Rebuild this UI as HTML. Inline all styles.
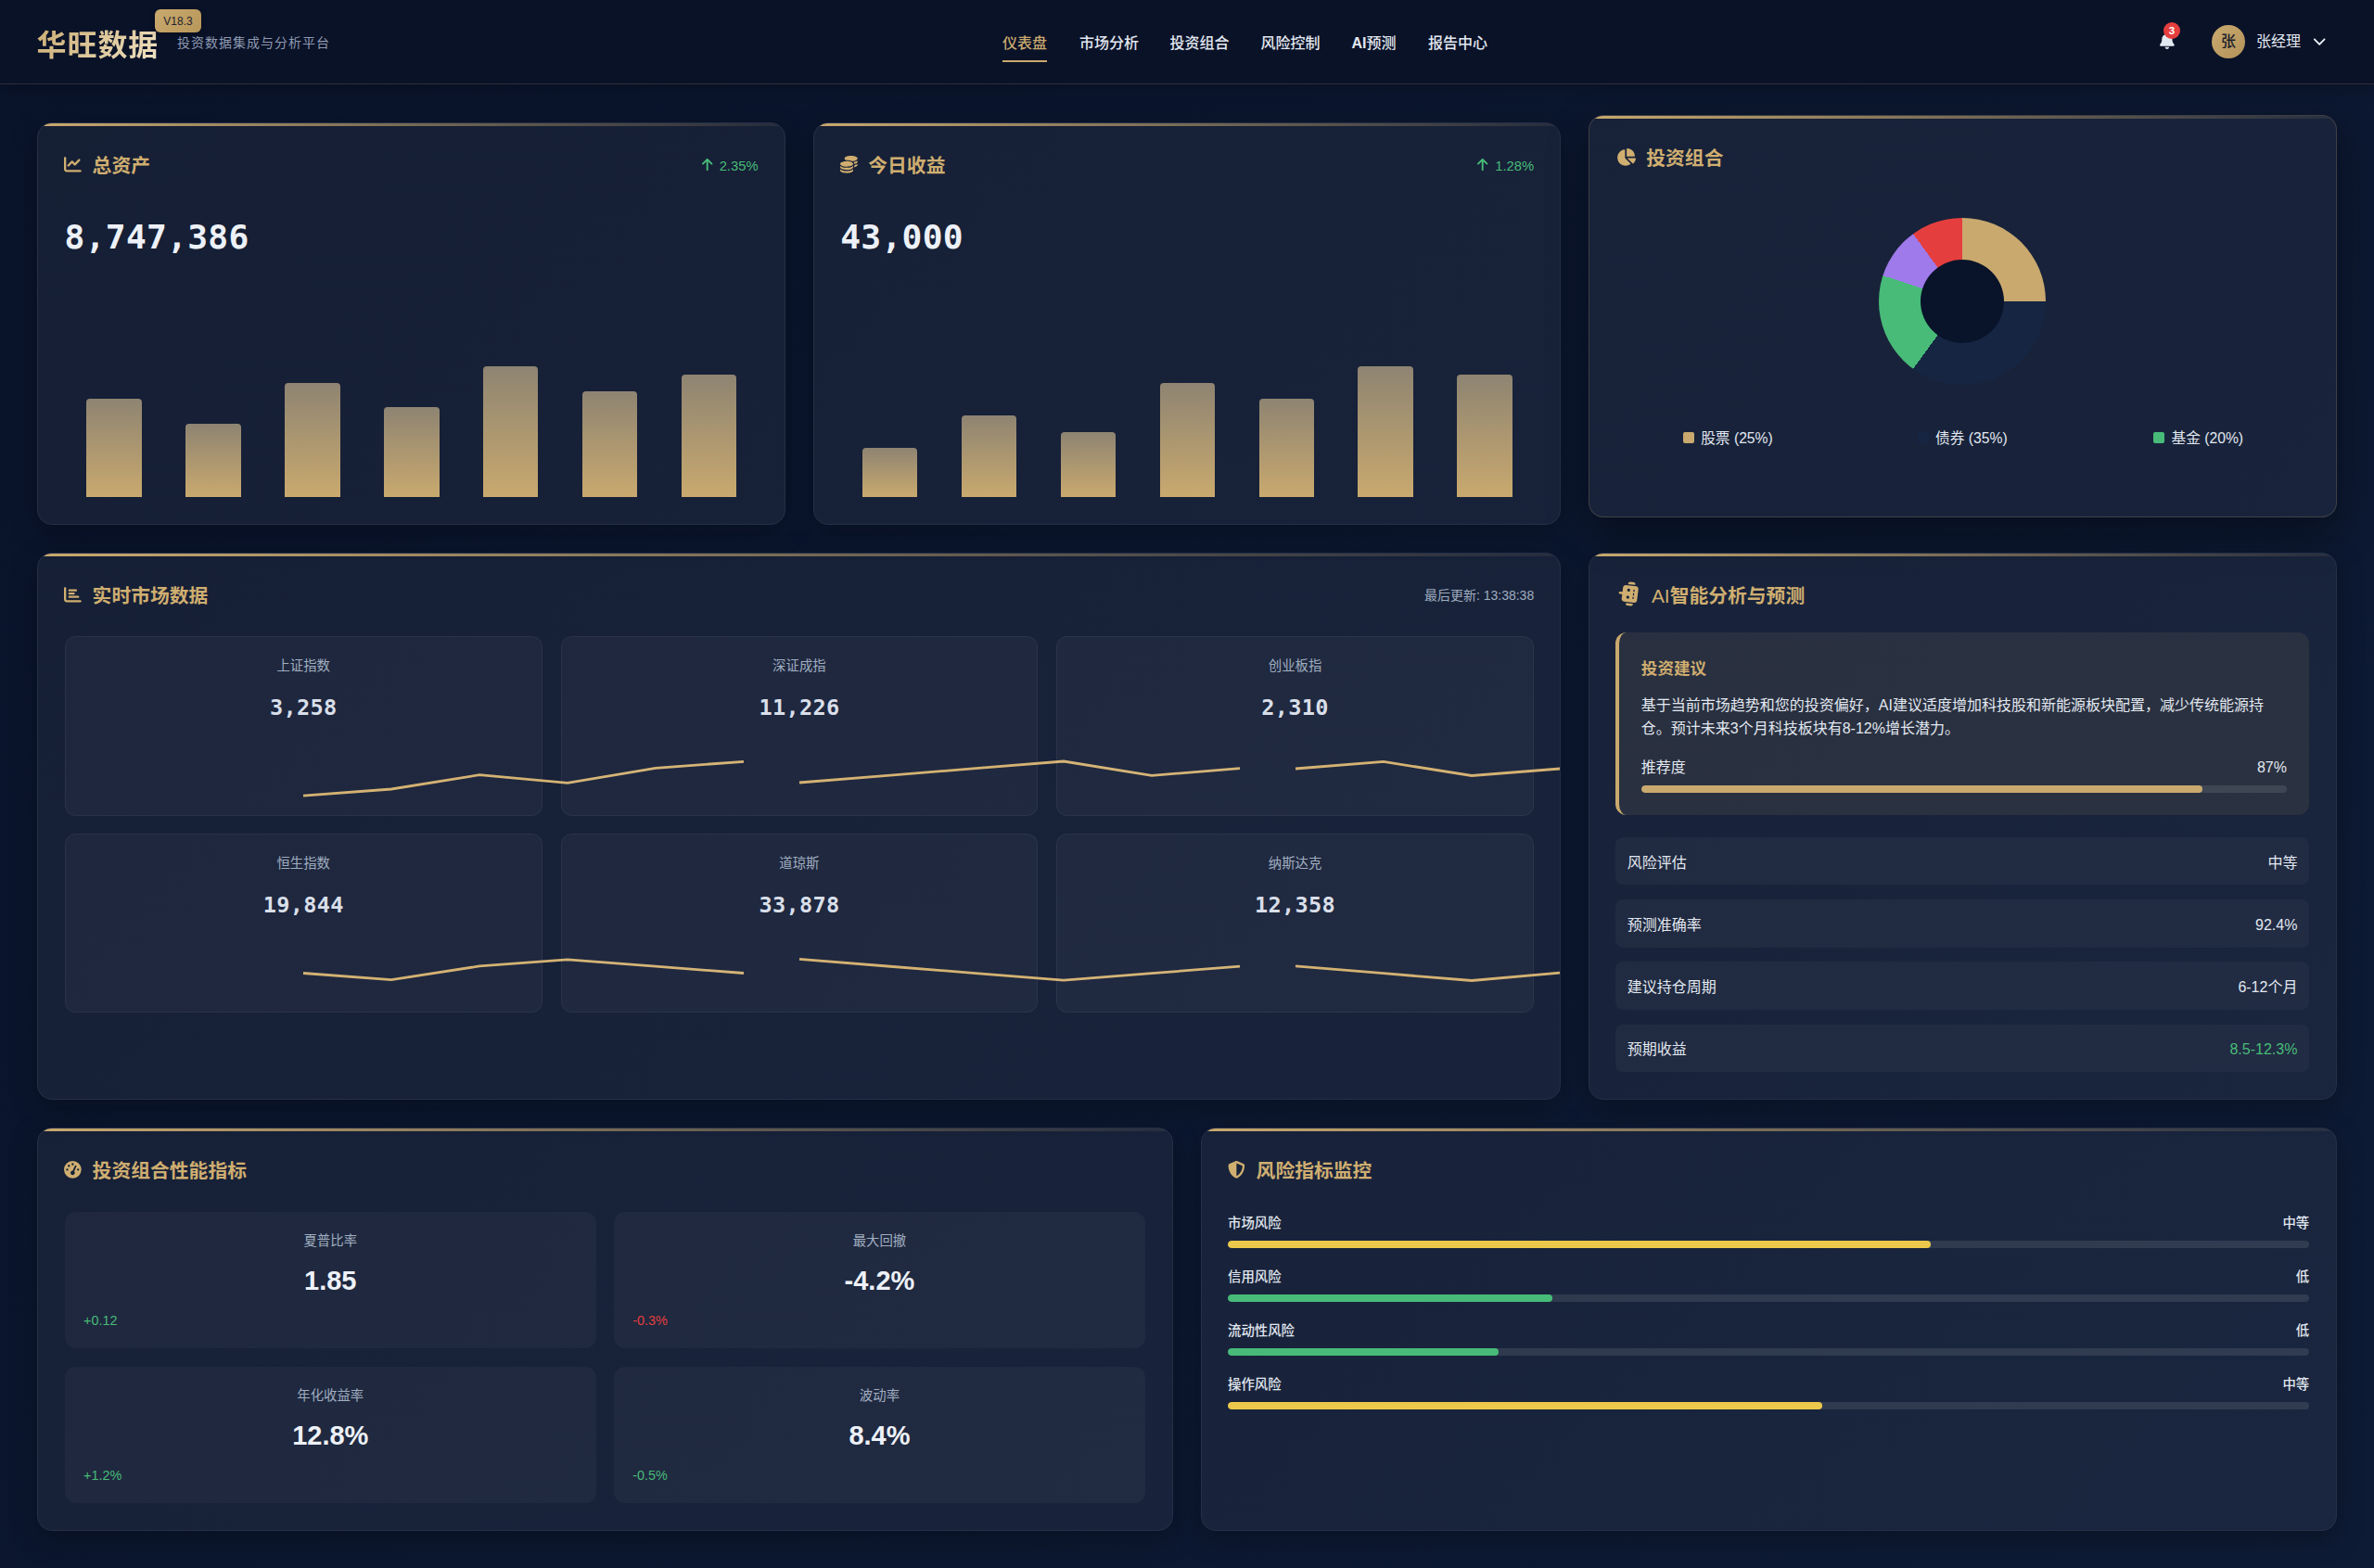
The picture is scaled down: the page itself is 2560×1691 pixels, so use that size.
<!DOCTYPE html>
<html lang="zh-CN">
<head>
<meta charset="utf-8">
<title>华旺数据 - 投资数据集成与分析平台</title>
<style>
*{margin:0;padding:0;box-sizing:border-box}
html,body{width:2560px;height:1691px;overflow:hidden}
body{position:relative;background:linear-gradient(135deg,#09132a 0%,#0e1b35 100%);color:#e2e8f0;
  font-family:"Liberation Sans","Noto Sans CJK SC",sans-serif;font-size:16px}
.hdr{position:absolute;left:0;top:0;width:2560px;height:91px;background:#0a1228;border-bottom:1px solid rgba(201,169,110,.2);box-shadow:0 2px 16px rgba(0,0,0,.3);z-index:5}
.hdr>*,.hdr nav a{position:absolute;white-space:nowrap}
.logo{left:39.5px;top:19.2px;height:60px;line-height:60px;font-size:32px;font-weight:700;letter-spacing:.95px;
  background:linear-gradient(135deg,#c9a96e 0%,#f2e6c8 100%);-webkit-background-clip:text;background-clip:text;color:transparent}
.ver{left:167px;top:10px;width:50px;height:25px;line-height:26.4px;border-radius:6px;text-align:center;font-size:12px;font-weight:500;
  color:#1f2430;background:linear-gradient(135deg,#c9a96e,#b8975a);box-shadow:0 2px 6px rgba(0,0,0,.3)}
.sub{left:191px;top:31px;height:30px;line-height:30px;font-size:14px;letter-spacing:1px;color:#8f9bb3}
.hdr nav{left:0;top:0;width:100%;height:90px}
.hdr nav a{top:26.8px;height:40px;line-height:40px;font-size:16px;font-weight:500;color:#e2e8f0}
.hdr nav a.on{color:#c9a96e}
.hdr nav a.on::after{content:"";position:absolute;left:0;right:0;top:38px;height:2.2px;background:#c9a96e}
.ico{position:absolute;display:block;overflow:visible}
.badge{left:2333px;top:24px;width:18px;height:18px;border-radius:50%;background:#e53e3e;color:#fff;font-size:11.5px;font-weight:700;line-height:18px;text-align:center}
.avatar{left:2385px;top:27px;width:36px;height:36px;border-radius:50%;background:linear-gradient(135deg,#c9a96e,#b3935a);color:#1a202c;
  font-size:16px;font-weight:500;line-height:36px;text-align:center}
.uname{left:2433px;top:25px;height:40px;line-height:40px;font-size:16px;color:#e2e8f0}
.card{position:absolute;border:1px solid #253048;border-radius:16px;overflow:hidden;
  background:rgba(255,255,255,.05);box-shadow:0 8px 30px rgba(0,0,0,.28)}
.card.lift{box-shadow:0 16px 44px rgba(0,0,0,.4);border-color:rgba(201,169,110,.22)}
.card::before{content:"";position:absolute;left:-1px;right:-1px;top:-1px;height:4.5px;background:linear-gradient(90deg,#c9a96e 0%,rgba(201,169,110,.08) 100%)}
.card>*{position:absolute}
.t{position:absolute;white-space:nowrap}
.ttl{font-size:20.8px;font-weight:700;color:#cfae70}
.chg{font-size:14.8px;color:#48bb78}
.big{font-family:"DejaVu Sans Mono","Liberation Mono",monospace;font-weight:700;font-size:36.3px;color:#edf1f7;letter-spacing:.25px}
.bars{display:flex;align-items:flex-end;justify-content:space-around}
.bars i{display:block;width:59.6px;border-radius:4px 4px 0 0;background:linear-gradient(to top,#c9a96e 0%,#8e8472 100%)}
.donut{border-radius:50%;background:conic-gradient(#c9a96e 0 25%,#152542 25% 60%,#48bb78 60% 80%,#9f7aea 80% 90%,#e53e3e 90% 100%)}
.donut b{position:absolute;left:45px;top:45px;width:90px;height:90px;border-radius:50%;background:#09132a}
.sq{border-radius:2px}
.leg{font-size:15.7px;color:#e2e8f0}
.upd{font-size:14px;color:#a0aec0}
.mitem,.pitem{border-radius:12px;background:rgba(255,255,255,.035)}
.mitem{border:1px solid rgba(255,255,255,.05)}
.mlab{font-size:14.4px;color:#a0aec0}
.mval{font-family:"DejaVu Sans Mono","Liberation Mono",monospace;font-weight:700;font-size:23.6px;color:#d9dfe9;letter-spacing:.3px}
.spark{position:absolute;overflow:visible}
.spark polyline{fill:none;stroke:#d4b273;stroke-width:2.8;stroke-linejoin:miter}
.advice{border-left:4px solid #c9a96e;border-radius:12px;background:rgba(201,169,110,.1)}
.advh{font-size:17.6px;font-weight:700;color:#cfae70}
.advp{position:absolute;left:24px;top:67.1px;width:700px;font-size:16px;line-height:24.7px;color:#e2e8f0;white-space:nowrap}
.rec{font-size:16px;color:#e2e8f0}
.prog{position:absolute;height:8px;border-radius:4px;background:rgba(255,255,255,.1);overflow:hidden}
.prog i{display:block;height:100%;border-radius:4px;background:#c9a96e}
.airow{border-radius:8px;background:rgba(255,255,255,.035);display:flex;align-items:center;justify-content:space-between;padding:0 12.4px 0 13px;font-size:16px;color:#e2e8f0}
.airow .pos,.pos{color:#48bb78}
.neg{color:#e53e3e}
.pval{font-size:29px;font-weight:700;color:#edf1f7}
.pchg{font-size:14.4px}
.rlab{font-size:14.4px;font-weight:500;color:#e2e8f0}
.ttl .lat{font-weight:400}
.hdr nav a b{font-weight:700}
.airow .num{position:relative;top:1.8px}

</style>
</head>
<body>
<header class="hdr">
  <div class="logo">华旺数据</div>
  <div class="ver">V18.3</div>
  <div class="sub">投资数据集成与分析平台</div>
  <nav><a class="on" style="left:1081px">仪表盘</a><a class="" style="left:1164px">市场分析</a><a class="" style="left:1261.6px">投资组合</a><a class="" style="left:1359.5px">风险控制</a><a class="" style="left:1457.4px"><b>AI</b>预测</a><a class="" style="left:1540px">报告中心</a></nav>
  <svg class="ico" style="left:2328.5px;top:35.2px;" width="15.75" height="18" viewBox="0 0 448 512" fill="#e2e8f0"><path d="M224 0c-17.700 0-32 14.300-32 32V51.200C119 66 64 130.600 64 208v18.800c0 47-17.300 92.400-48.500 127.600l-7.400 8.300c-8.400 9.400-10.400 22.900-5.300 34.400S19.400 416 32 416H416c12.600 0 24-7.400 29.200-18.900s3.100-25-5.300-34.400l-7.400-8.300C401.300 319.200 384 273.900 384 226.800V208c0-77.400-55-142-128-156.800V32c0-17.700-14.300-32-32-32zm45.300 493.300c12-12 18.700-28.300 18.700-45.300H224 160c0 17 6.700 33.300 18.700 45.300s28.300 18.700 45.300 18.700s33.300-6.700 45.300-18.700z"/></svg>
  <div class="badge">3</div>
  <div class="avatar">张</div>
  <div class="uname">张经理</div>
  <svg class="ico" style="left:2493.8px;top:36.6px;" width="14.4" height="14.4" viewBox="0 0 512 512" fill="#edf2f7"><path d="M233.400 406.600c12.500 12.500 32.800 12.500 45.300 0l192-192c12.500-12.500 12.500-32.800 0-45.300s-32.800-12.500-45.300 0L256 338.700 86.600 169.400c-12.500-12.500-32.800-12.500-45.300 0s-12.500 32.800 0 45.300l192 192z"/></svg>
</header>
<main>
<section class="card " style="left:40px;top:131.5px;width:806.67px;height:434.2px">
  <svg class="ico" style="left:28.3px;top:35.4px;" width="18.72" height="18.72" viewBox="0 0 512 512" fill="#cfae70"><path d="M64 64c0-17.700-14.300-32-32-32S0 46.300 0 64V400c0 44.200 35.800 80 80 80H480c17.700 0 32-14.300 32-32s-14.300-32-32-32H80c-8.800 0-16-7.200-16-16V64zm406.600 86.600c12.500-12.500 12.500-32.800 0-45.300s-32.800-12.500-45.300 0L320 210.700l-57.400-57.400c-12.500-12.500-32.800-12.500-45.300 0l-112 112c-12.500 12.500-12.500 32.800 0 45.300s32.800 12.500 45.300 0L240 221.300l57.400 57.400c12.500 12.500 32.800 12.500 45.300 0l128-128z"/></svg>
  <div class="t ttl" style="left:58.62px;top:26.9px;height:40px;line-height:40px;">总资产</div>
  <div class="t chg" style="right:28.07px;top:31.2px;height:30px;line-height:30px;">2.35%</div>
  <svg class="ico" style="left:715.5px;top:37.6px;" width="11.4" height="15.2" viewBox="0 0 384 512" fill="#48bb78"><path d="M214.600 41.400c-12.500-12.500-32.800-12.500-45.300 0l-160 160c-12.500 12.500-12.500 32.800 0 45.300s32.800 12.500 45.300 0L160 141.200V448c0 17.700 14.300 32 32 32s32-14.300 32-32V141.200L329.400 246.600c12.500 12.500 32.800 12.500 45.300 0s12.500-32.800 0-45.300l-160-160z"/></svg>
  <div class="t big" style="left:28.6px;top:93.2px;height:60px;line-height:60px;">8,747,386</div>
  <div class="bars" style="left:28.45px;top:227.5px;width:748.67px;height:176px;"><i style="height:105.6px"></i><i style="height:79.2px"></i><i style="height:123.2px"></i><i style="height:96.8px"></i><i style="height:140.8px"></i><i style="height:114.4px"></i><i style="height:132px"></i></div>
</section>
<section class="card " style="left:876.67px;top:131.5px;width:806.67px;height:434.2px">
  <svg class="ico" style="left:28.3px;top:35.4px;" width="18.72" height="18.72" viewBox="0 0 512 512" fill="#cfae70"><path d="M512 80c0 18-14.300 34.600-38.400 48c-29.100 16.100-72.500 27.500-122.300 30.900c-3.700-1.800-7.400-3.500-11.300-5C300.600 137.400 248.200 128 192 128c-8.300 0-16.400 .2-24.500 .6l-1.100-.6C142.300 114.600 128 98 128 80c0-44.200 86-80 192-80S512 35.800 512 80zM160.700 161.100c10.200-.7 20.700-1.100 31.300-1.100c62.200 0 117.400 12.300 152.500 31.400C369.300 204.900 384 221.700 384 240c0 4-.7 7.900-2.100 11.700c-4.600 13.200-17 25.300-35 35.500c0 0 0 0 0 0c-.1 .1-.3 .1-.4 .2l0 0 0 0c-.3 .2-.6 .3-.9 .5c-35 19.400-90.800 32-153.600 32c-59.600 0-112.900-11.300-148.200-29.100c-1.900-.9-3.700-1.900-5.500-2.900C14.300 274.600 0 258 0 240c0-34.800 53.400-64.500 128-75.400c10.500-1.500 21.400-2.700 32.700-3.500zM416 240c0-21.900-10.600-39.900-24.100-53.400c28.300-4.400 54.200-11.400 76.200-20.500c16.300-6.800 31.500-15.200 43.900-25.500V176c0 19.300-16.500 37.100-43.800 50.900c-14.600 7.400-32.400 13.700-52.400 18.500c.1-1.800 .2-3.500 .2-5.300zm-32 96c0 18-14.300 34.600-38.400 48c-1.800 1-3.600 1.900-5.500 2.900C304.900 404.700 251.600 416 192 416c-62.800 0-118.600-12.600-153.600-32C14.300 370.600 0 354 0 336V300.600c12.500 10.300 27.600 18.700 43.900 25.500C83.400 342.600 135.800 352 192 352s108.600-9.400 148.100-25.900c7.800-3.200 15.300-6.900 22.400-10.900c6.100-3.400 11.800-7.200 17.200-11.200c1.500-1.100 2.900-2.300 4.300-3.400V304v5.700V336zm32 0V304 278.100c19-4.200 36.500-9.500 52.100-16c16.300-6.800 31.500-15.200 43.900-25.500V272c0 10.500-5 21-14.900 30.900c-16.300 16.300-45 29.700-81.300 38.400c.1-1.700 .2-3.500 .2-5.300zM192 448c56.200 0 108.600-9.400 148.100-25.900c16.300-6.800 31.500-15.200 43.900-25.500V432c0 44.200-86 80-192 80S0 476.200 0 432V396.600c12.500 10.300 27.600 18.700 43.900 25.500C83.400 438.600 135.800 448 192 448z"/></svg>
  <div class="t ttl" style="left:58.62px;top:26.9px;height:40px;line-height:40px;">今日收益</div>
  <div class="t chg" style="right:28.07px;top:31.2px;height:30px;line-height:30px;">1.28%</div>
  <svg class="ico" style="left:715.5px;top:37.6px;" width="11.4" height="15.2" viewBox="0 0 384 512" fill="#48bb78"><path d="M214.600 41.400c-12.500-12.500-32.800-12.500-45.300 0l-160 160c-12.500 12.500-12.500 32.800 0 45.300s32.800 12.500 45.300 0L160 141.200V448c0 17.700 14.300 32 32 32s32-14.300 32-32V141.200L329.400 246.600c12.500 12.500 32.800 12.500 45.300 0s12.500-32.800 0-45.300l-160-160z"/></svg>
  <div class="t big" style="left:28.6px;top:93.2px;height:60px;line-height:60px;">43,000</div>
  <div class="bars" style="left:28.45px;top:227.5px;width:748.67px;height:176px;"><i style="height:52.8px"></i><i style="height:88px"></i><i style="height:70.4px"></i><i style="height:123.2px"></i><i style="height:105.6px"></i><i style="height:140.8px"></i><i style="height:132px"></i></div>
</section>
<section class="card lift" style="left:1713.33px;top:123.5px;width:806.67px;height:434.2px">
  <svg class="ico" style="left:28.3px;top:35.4px;" width="21.06" height="18.72" viewBox="0 0 576 512" fill="#cfae70"><path d="M304 240V16.600c0-9 7-16.600 16-16.600C443.700 0 544 100.300 544 224c0 9-7.600 16-16.600 16H304zM32 272C32 150.700 122.100 50.300 239 34.300c9.200-1.300 17 6.100 17 15.400V288L412.500 444.500c6.700 6.700 6.200 17.700-1.500 23.100C371.800 495.600 323.800 512 272 512C139.500 512 32 404.600 32 272zm526.400 16c9.300 0 16.600 7.800 15.400 17c-7.700 55.900-34.600 105.600-73.900 142.300c-6 5.600-15.400 5.200-21.200-.7L320 288H558.400z"/></svg>
  <div class="t ttl" style="left:60.96px;top:26.9px;height:40px;line-height:40px;">投资组合</div>
  <div class="donut" style="left:311.67px;top:110.7px;width:180px;height:180px;"><b></b></div>
  <div class="sq" style="left:100.67px;top:341.8px;width:12px;height:12px;background:#c9a96e"></div>
  <div class="t leg" style="left:119.87px;top:333.9px;height:30px;line-height:30px;">股票 (25%)</div>
  <div class="sq" style="left:353.57px;top:341.8px;width:12px;height:12px;background:#152542"></div>
  <div class="t leg" style="left:372.77px;top:333.9px;height:30px;line-height:30px;">债券 (35%)</div>
  <div class="sq" style="left:607.97px;top:341.8px;width:12px;height:12px;background:#48bb78"></div>
  <div class="t leg" style="left:627.17px;top:333.9px;height:30px;line-height:30px;">基金 (20%)</div>
</section>
<section class="card " style="left:40px;top:595.7px;width:1643.33px;height:590px">
  <svg class="ico" style="left:28.3px;top:35.4px;" width="18.72" height="18.72" viewBox="0 0 512 512" fill="#cfae70"><path d="M32 32c17.700 0 32 14.300 32 32V400c0 8.800 7.200 16 16 16H480c17.700 0 32 14.300 32 32s-14.300 32-32 32H80c-44.200 0-80-35.800-80-80V64C0 46.300 14.300 32 32 32zm96 96c0-17.700 14.300-32 32-32l192 0c17.700 0 32 14.300 32 32s-14.300 32-32 32l-192 0c-17.700 0-32-14.300-32-32zm32 64H288c17.700 0 32 14.300 32 32s-14.300 32-32 32H160c-17.700 0-32-14.300-32-32s14.300-32 32-32zm0 96H416c17.700 0 32 14.300 32 32s-14.300 32-32 32H160c-17.700 0-32-14.300-32-32s14.300-32 32-32z"/></svg>
  <div class="t ttl" style="left:58.62px;top:26.4px;height:40px;line-height:40px;">实时市场数据</div>
  <div class="t upd" style="right:28.13px;top:30.5px;height:30px;line-height:30px;">最后更新: 13:38:38</div>
  <div class="mitem" style="left:28.9px;top:89.3px;width:514.7px;height:194px;"><div class="t mlab" style="left:0;width:100%;text-align:center;top:16.4px;height:30px;line-height:30px">上证指数</div><div class="t mval" style="left:0;width:100%;text-align:center;top:56px;height:40px;line-height:40px">3,258</div><svg class="spark" style="left:256.35px;top:131px" width="475" height="40" viewBox="0 0 475 40"><polyline points="0,40.1 95,33 190,17.7 285,26.3 380,10.3 475,3.3"/></svg></div>
  <div class="mitem" style="left:563.55px;top:89.3px;width:514.7px;height:194px;"><div class="t mlab" style="left:0;width:100%;text-align:center;top:16.4px;height:30px;line-height:30px">深证成指</div><div class="t mval" style="left:0;width:100%;text-align:center;top:56px;height:40px;line-height:40px">11,226</div><svg class="spark" style="left:256.35px;top:131px" width="475" height="40" viewBox="0 0 475 40"><polyline points="0,26 95,18.4 190,10.7 285,3 380,18.3 475,10.6"/></svg></div>
  <div class="mitem" style="left:1098.2px;top:89.3px;width:514.7px;height:194px;"><div class="t mlab" style="left:0;width:100%;text-align:center;top:16.4px;height:30px;line-height:30px">创业板指</div><div class="t mval" style="left:0;width:100%;text-align:center;top:56px;height:40px;line-height:40px">2,310</div><svg class="spark" style="left:256.35px;top:131px" width="475" height="40" viewBox="0 0 475 40"><polyline points="0,11 95,3.4 190,18.5 285,11 380,3.5 475,11"/></svg></div>
  <div class="mitem" style="left:28.9px;top:302.3px;width:514.7px;height:193px;"><div class="t mlab" style="left:0;width:100%;text-align:center;top:16.4px;height:30px;line-height:30px">恒生指数</div><div class="t mval" style="left:0;width:100%;text-align:center;top:56px;height:40px;line-height:40px">19,844</div><svg class="spark" style="left:256.35px;top:131px" width="475" height="40" viewBox="0 0 475 40"><polyline points="0,18.5 95,25.6 190,10.9 285,3.8 380,11.2 475,18.5"/></svg></div>
  <div class="mitem" style="left:563.55px;top:302.3px;width:514.7px;height:193px;"><div class="t mlab" style="left:0;width:100%;text-align:center;top:16.4px;height:30px;line-height:30px">道琼斯</div><div class="t mval" style="left:0;width:100%;text-align:center;top:56px;height:40px;line-height:40px">33,878</div><svg class="spark" style="left:256.35px;top:131px" width="475" height="40" viewBox="0 0 475 40"><polyline points="0,3.4 95,11 190,18.6 285,26.2 380,18.7 475,11.1"/></svg></div>
  <div class="mitem" style="left:1098.2px;top:302.3px;width:514.7px;height:193px;"><div class="t mlab" style="left:0;width:100%;text-align:center;top:16.4px;height:30px;line-height:30px">纳斯达克</div><div class="t mval" style="left:0;width:100%;text-align:center;top:56px;height:40px;line-height:40px">12,358</div><svg class="spark" style="left:256.35px;top:131px" width="475" height="40" viewBox="0 0 475 40"><polyline points="0,10.8 95,18.7 190,26.5 285,18.1 380,10.5 475,18.5"/></svg></div>
</section>
<section class="card " style="left:1713.33px;top:595.7px;width:806.67px;height:590px">
  <svg class="ico" style="left:29.06px;top:33.35px;transform:rotate(-83deg);" width="25.62" height="20.5" viewBox="0 0 640 512" fill="#cfae70"><path d="M320 0c17.700 0 32 14.300 32 32V96H472c39.800 0 72 32.200 72 72V440c0 39.800-32.200 72-72 72H168c-39.800 0-72-32.200-72-72V168c0-39.800 32.200-72 72-72H288V32c0-17.700 14.300-32 32-32zM208 384c-8.800 0-16 7.200-16 16s7.200 16 16 16h32c8.800 0 16-7.200 16-16s-7.200-16-16-16H208zm96 0c-8.800 0-16 7.200-16 16s7.200 16 16 16h32c8.800 0 16-7.200 16-16s-7.200-16-16-16H304zm96 0c-8.800 0-16 7.200-16 16s7.200 16 16 16h32c8.800 0 16-7.200 16-16s-7.200-16-16-16H400zM264 256a40 40 0 1 0 -80 0 40 40 0 1 0 80 0zm152 40a40 40 0 1 0 0-80 40 40 0 1 0 0 80zM48 224H64V416H48c-26.500 0-48-21.500-48-48V272c0-26.500 21.500-48 48-48zm544 0c26.500 0 48 21.500 48 48v96c0 26.500-21.500 48-48 48H576V224h16z"/></svg>
  <div class="t ttl" style="left:66.67px;top:26.4px;height:40px;line-height:40px;"><span class="lat">AI</span>智能分析与预测</div>
  <div class="advice" style="left:27.47px;top:85.2px;width:748px;height:197px;"><div class="t advh" style="left:24px;top:18.9px;height:40px;line-height:40px">投资建议</div><p class="advp">基于当前市场趋势和您的投资偏好，AI建议适度增加科技股和新能源板块配置，减少传统能源持<br>仓。预计未来3个月科技板块有8-12%增长潜力。</p><div class="t rec" style="left:24px;top:131px;height:30px;line-height:30px">推荐度</div><div class="t rec" style="right:23.8px;top:131.5px;height:30px;line-height:30px">87%</div><div class="prog" style="left:24px;top:165.3px;width:696px"><i style="width:87%"></i></div></div>
  <div class="airow" style="left:27.47px;top:306.3px;width:748px;height:51.4px;"><span class="k">风险评估</span><span class="v">中等</span></div>
  <div class="airow" style="left:27.47px;top:373.5px;width:748px;height:51.4px;"><span class="k">预测准确率</span><span class="v num">92.4%</span></div>
  <div class="airow" style="left:27.47px;top:440.7px;width:748px;height:51.4px;"><span class="k">建议持仓周期</span><span class="v">6-12个月</span></div>
  <div class="airow" style="left:27.47px;top:507.9px;width:748px;height:51.4px;"><span class="k">预期收益</span><span class="v num pos">8.5-12.3%</span></div>
</section>
<section class="card " style="left:40px;top:1215.7px;width:1225px;height:435px">
  <svg class="ico" style="left:28.3px;top:35.4px;" width="18.72" height="18.72" viewBox="0 0 512 512" fill="#cfae70"><path d="M0 256a256 256 0 1 1 512 0A256 256 0 1 1 0 256zM288 96a32 32 0 1 0 -64 0 32 32 0 1 0 64 0zM256 416c35.300 0 64-28.700 64-64c0-17.400-6.900-33.100-18.100-44.600L366 161.700c5.300-12.100-.2-26.300-12.300-31.600s-26.300 .2-31.600 12.300L257.900 288c-.6 0-1.300 0-1.900 0c-35.300 0-64 28.700-64 64s28.700 64 64 64zM176 144a32 32 0 1 0 -64 0 32 32 0 1 0 64 0zM96 288a32 32 0 1 0 0-64 32 32 0 1 0 0 64zm352-32a32 32 0 1 0 -64 0 32 32 0 1 0 64 0z"/></svg>
  <div class="t ttl" style="left:58.62px;top:26.3px;height:40px;line-height:40px;">投资组合性能指标</div>
  <div class="pitem" style="left:29px;top:90.3px;width:572.5px;height:146.6px;"><div class="t mlab" style="left:0;width:100%;text-align:center;top:16px;height:30px;line-height:30px">夏普比率</div><div class="t pval" style="left:0;width:100%;text-align:center;top:49.3px;height:50px;line-height:50px">1.85</div><div class="t pchg pos" style="left:20px;top:101.8px;height:30px;line-height:30px">+0.12</div></div>
  <div class="pitem" style="left:621.2px;top:90.3px;width:572.5px;height:146.6px;"><div class="t mlab" style="left:0;width:100%;text-align:center;top:16px;height:30px;line-height:30px">最大回撤</div><div class="t pval" style="left:0;width:100%;text-align:center;top:49.3px;height:50px;line-height:50px">-4.2%</div><div class="t pchg neg" style="left:20px;top:101.8px;height:30px;line-height:30px">-0.3%</div></div>
  <div class="pitem" style="left:29px;top:257.5px;width:572.5px;height:146.6px;"><div class="t mlab" style="left:0;width:100%;text-align:center;top:16px;height:30px;line-height:30px">年化收益率</div><div class="t pval" style="left:0;width:100%;text-align:center;top:49.3px;height:50px;line-height:50px">12.8%</div><div class="t pchg pos" style="left:20px;top:101.8px;height:30px;line-height:30px">+1.2%</div></div>
  <div class="pitem" style="left:621.2px;top:257.5px;width:572.5px;height:146.6px;"><div class="t mlab" style="left:0;width:100%;text-align:center;top:16px;height:30px;line-height:30px">波动率</div><div class="t pval" style="left:0;width:100%;text-align:center;top:49.3px;height:50px;line-height:50px">8.4%</div><div class="t pchg pos" style="left:20px;top:101.8px;height:30px;line-height:30px">-0.5%</div></div>
</section>
<section class="card " style="left:1295px;top:1215.7px;width:1225px;height:435px">
  <svg class="ico" style="left:28.3px;top:35.4px;" width="18.72" height="18.72" viewBox="0 0 512 512" fill="#cfae70"><path d="M256 0c4.600 0 9.200 1 13.400 2.900L457.700 82.800c22 9.300 38.400 31 38.300 57.200c-.5 99.200-41.300 280.700-213.600 363.200c-16.700 8-36.100 8-52.800 0C57.300 420.700 16.500 239.200 16 140c-.1-26.200 16.300-47.900 38.300-57.200L242.700 2.900C246.800 1 251.400 0 256 0zm0 66.800V444.800C394 378 431.100 230.100 432 141.400L256 66.800l0 0z"/></svg>
  <div class="t ttl" style="left:58.62px;top:26.3px;height:40px;line-height:40px;">风险指标监控</div>
  <div class="t rlab" style="left:28px;top:87.6px;height:30px;line-height:30px;">市场风险</div>
  <div class="t rlab" style="right:28.8px;top:87.6px;height:30px;line-height:30px;">中等</div>
  <div class="prog" style="left:28px;top:121.3px;width:1166px;height:8px;"><i style="width:65%;background:#ecc94b"></i></div>
  <div class="t rlab" style="left:28px;top:145.5px;height:30px;line-height:30px;">信用风险</div>
  <div class="t rlab" style="right:28.8px;top:145.5px;height:30px;line-height:30px;">低</div>
  <div class="prog" style="left:28px;top:179.2px;width:1166px;height:8px;"><i style="width:30%;background:#48bb78"></i></div>
  <div class="t rlab" style="left:28px;top:203.4px;height:30px;line-height:30px;">流动性风险</div>
  <div class="t rlab" style="right:28.8px;top:203.4px;height:30px;line-height:30px;">低</div>
  <div class="prog" style="left:28px;top:237.1px;width:1166px;height:8px;"><i style="width:25%;background:#48bb78"></i></div>
  <div class="t rlab" style="left:28px;top:261.3px;height:30px;line-height:30px;">操作风险</div>
  <div class="t rlab" style="right:28.8px;top:261.3px;height:30px;line-height:30px;">中等</div>
  <div class="prog" style="left:28px;top:295px;width:1166px;height:8px;"><i style="width:55%;background:#ecc94b"></i></div>
</section>
</main>
</body>
</html>
